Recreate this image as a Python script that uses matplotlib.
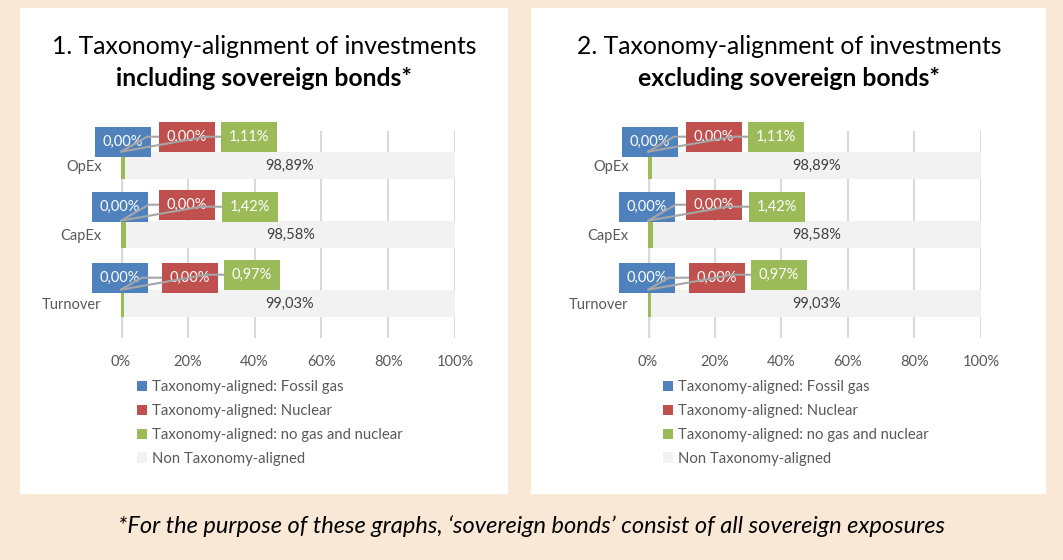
import numpy as np
import matplotlib
matplotlib.use("Agg")
import matplotlib.pyplot as plt
from matplotlib.patches import Rectangle

plt.rcParams['font.family'] = ['Lato', 'DejaVu Sans']

categories = ['Turnover', 'CapEx', 'OpEx']
fossil_gas = [0.0, 0.0, 0.0]
nuclear = [0.0, 0.0, 0.0]
no_gas_nuclear = [0.97, 1.42, 1.11]
non_aligned = [99.03, 98.58, 98.89]

series_names = ['Taxonomy-aligned: Fossil gas', 'Taxonomy-aligned: Nuclear',
                'Taxonomy-aligned: no gas and nuclear', 'Non Taxonomy-aligned']
colors = ['#4F81BD', '#C0504D', '#9BBB59', '#F2F2F2']
titles = [('1. Taxonomy-alignment of investments', 'including sovereign bonds*'),
          ('2. Taxonomy-alignment of investments', 'excluding sovereign bonds*')]
footnote = '*For the purpose of these graphs, \u2018sovereign bonds\u2019 consist of all sovereign exposures'

# label box offsets (pixels) from bar top-left, per category (Turnover, CapEx, OpEx)
lab_off = {0: [(-1, 12), (-1, 14), (2, 10)],
           1: [(69, 12), (66, 16), (66, 15)],
           2: [(131, 15), (129, 14), (128, 15)]}
lead_ang = {1: 30, 2: 10}

W, H = 1063, 560
fig = plt.figure(figsize=(W / 100, H / 100), dpi=100, facecolor='#FAE8D7')

panels = [(20, 8, 488, 486), (531, 8, 515, 486)]
for (px, py, pw, ph) in panels:
    fig.patches.append(Rectangle((px / W, 1 - (py + ph) / H), pw / W, ph / H,
                                 transform=fig.transFigure, facecolor='white',
                                 edgecolor='none', zorder=-5))

ax_pos = [(121, 131, 334, 207), (648, 131, 333, 207)]
title_x = [264, 789]
legend_x = [137, 663]
txt_gray = '#595959'

data = [fossil_gas, nuclear, no_gas_nuclear, non_aligned]
y = np.arange(len(categories))
h = 0.4

for k in range(2):
    x0, y0, w, hh = ax_pos[k]
    ax = fig.add_axes([x0 / W, 1 - (y0 + hh) / H, w / W, hh / H])
    ax.set_facecolor('none')
    left = np.zeros(len(categories))
    handles = []
    for s in range(4):
        vals = np.array(data[s])
        b = ax.barh(y, vals, left=left, height=h, color=colors[s], zorder=3,
                    label=series_names[s])
        handles.append(b)
        for i in range(len(categories)):
            lab = f"{vals[i]:.2f}".replace('.', ',') + '%'
            if s == 3:
                ax.text(left[i] + vals[i] / 2, y[i], lab, ha='center', va='center',
                        fontsize=10.5, color='#404040', zorder=5)
            else:
                dx, dy = lab_off[s][i]
                ap = None
                if s in lead_ang:
                    ap = dict(arrowstyle='-', color='#A6A6A6', lw=1.5,
                              connectionstyle=f"angle,angleA=0,angleB={lead_ang[s]},rad=0",
                              shrinkA=0, shrinkB=0)
                ax.annotate(lab, xy=(left[i], y[i] + h / 2), xytext=(dx, dy),
                            textcoords='offset pixels', ha='center', va='center',
                            fontsize=10.5, color='white', zorder=6,
                            bbox=dict(boxstyle='square,pad=0.55', fc=colors[s], ec='none'),
                            arrowprops=ap)
        left = left + vals
    ax.set_xlim(0, 100)
    ax.set_ylim(-0.5, 2.5)
    ax.set_xticks(np.arange(0, 101, 20))
    ax.set_xticklabels([f'{t}%' for t in range(0, 101, 20)])
    ax.set_yticks(y)
    ax.set_yticklabels(categories)
    ax.tick_params(length=0, colors=txt_gray, labelsize=10.5)
    ax.tick_params(axis='x', pad=12)
    ax.tick_params(axis='y', pad=14)
    ax.grid(axis='x', color='#D9D9D9', lw=1.5, zorder=0)
    for sp in ax.spines.values():
        sp.set_visible(False)
    ax.axvline(0, color='#D9D9D9', lw=2.5, zorder=1)

    fig.text(title_x[k] / W, 1 - 46 / H, titles[k][0], ha='center', va='center',
             fontsize=17.8, color='black')
    fig.text(title_x[k] / W, 1 - 78 / H, titles[k][1], ha='center', va='center',
             fontsize=17.8, fontweight='bold', color='black')

    fig.legend(handles, series_names, loc='upper left',
               bbox_to_anchor=(legend_x[k] / W, 1 - 380 / H), frameon=False,
               fontsize=10.7, labelcolor=txt_gray, handlelength=0.7, handleheight=0.7,
               handletextpad=0.3, labelspacing=0.67, borderpad=0, borderaxespad=0)

fig.text(532 / W, 1 - 526 / H, footnote, ha='center', va='center', fontsize=17,
         style='italic', color='black')

fig.savefig('out.png', dpi=100, facecolor=fig.get_facecolor())
